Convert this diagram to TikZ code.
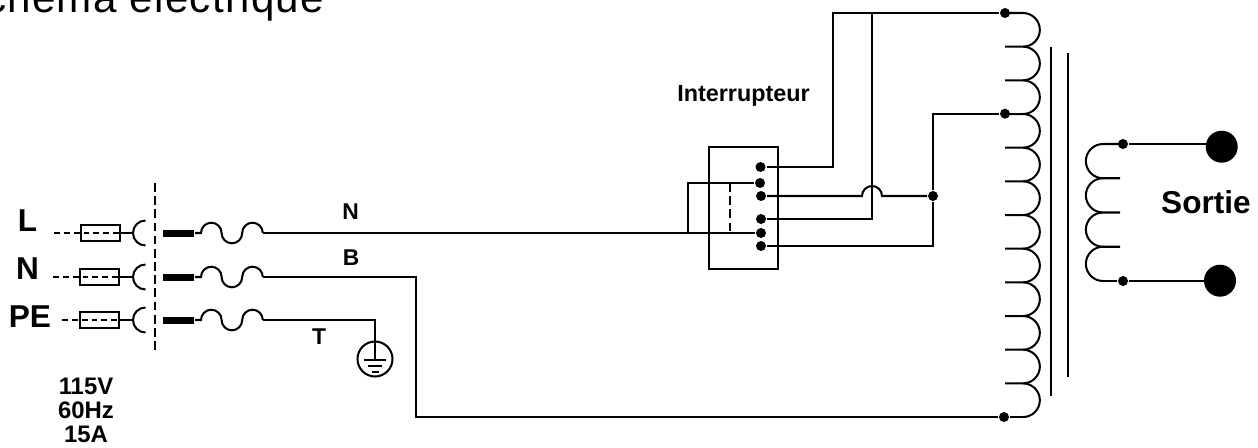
\documentclass[tikz,border=0pt]{standalone}
\usepackage{fontspec}
\setmainfont{Liberation Sans}
\newfontfamily\titlefont[LetterSpace=3]{Liberation Sans}
\tikzset{
  dot/.style={circle,fill=black,inner sep=0pt,minimum size=0.2cm},
  bigdot/.style={circle,fill=black,inner sep=0pt,minimum size=0.64cm},
  fuse/.style={draw,inner sep=0pt,minimum width=0.78cm,minimum height=0.33cm},
  blade/.style={fill=black,inner sep=0pt,minimum width=0.62cm,minimum height=0.14cm},
  biglab/.style={inner sep=0pt,anchor=base,font=\bfseries\fontsize{18}{18}\selectfont},
  lab/.style={inner sep=0pt,anchor=base,font=\bfseries\fontsize{13}{14}\selectfont}
}

\begin{document}
\begin{tikzpicture}[x=0.02cm,y=-0.02cm,line width=1.15pt]
  \useasboundingbox (0,0) rectangle (1258,447);
  \clip (0,0) rectangle (1258,447);

  \node[inner sep=0pt,anchor=base east,font=\titlefont\fontsize{24}{24}\selectfont]
    (title) at (325,12) {Schéma électrique};

  \node[biglab] (labL) at (27.5,231) {L};
  \node[biglab] (labN) at (27.5,279) {N};
  \node[biglab] (labPE) at (30,327) {PE};
  \node[lab] (labW1) at (350.5,219) {N};
  \node[lab] (labW2) at (351,265) {B};
  \node[lab] (labW3) at (319,344) {T};
  \node[lab,font=\bfseries\fontsize{13.3}{14}\selectfont] (labSw) at (743.5,101) {Interrupteur};
  \node[biglab] (labOut) at (1206,213) {Sortie};
  \node[lab,align=center,anchor=north,font=\bfseries\fontsize{13.6}{13.7}\selectfont]
    (labRate) at (86,377) {115V\\60Hz\\15A};

  \coordinate (sepA) at (155,183);
  \coordinate (sepB) at (155,350);
  \draw[dash pattern=on 5pt off 2.5pt] (sepA) -- (sepB);

  \foreach \nm/\yy/\xa/\xf in {L/233/54/100.5,N/277/53/99.5,PE/320/62/99.5}{
    \coordinate (in\nm) at (\xa,\yy);
    \node[fuse] (fuse\nm) at (\xf,\yy) {};
    \coordinate (sock\nm) at (133,\yy);
    \node[blade] (blade\nm) at (178.5,\yy) {};
    \draw[dash pattern=on 3.4pt off 2.2pt] (in\nm) -- (fuse\nm.east);
    \draw (fuse\nm.east) -- (sock\nm);
    \draw (sock\nm) arc[start angle=180,end angle=90,radius=12.5]
      (sock\nm) arc[start angle=180,end angle=270,radius=12.5];
    \draw (blade\nm.east) -- ++(6,0)
      arc[start angle=180,end angle=360,radius=10.3]
      arc[start angle=180,end angle=0,radius=10.3]
      arc[start angle=180,end angle=360,radius=10.3]
      coordinate (out\nm);
  }

  \node[draw,inner sep=0pt,minimum width=1.39cm,minimum height=2.44cm] (switch) at (743.5,208) {};
  \node[dot] (dotA) at (760.5,167) {};
  \node[dot] (dotB) at (760,183) {};
  \node[dot] (dotC) at (761,196) {};
  \node[dot] (dotD) at (761,219) {};
  \node[dot] (dotE) at (761,233) {};
  \node[dot] (dotF) at (761,246) {};
  \node[dot] (dotG) at (933,196) {};

  \node[dot] (tapA) at (1005,13) {};
  \node[dot] (tapB) at (1005,113.7) {};
  \node[dot] (tapC) at (1004,417) {};
  \node[dot] (tapD) at (1123,144) {};
  \node[dot] (tapE) at (1123,281) {};
  \node[bigdot] (outA) at (1221.7,146.7) {};
  \node[bigdot] (outB) at (1220,280.7) {};

  \coordinate (corA) at (833,13);
  \coordinate (corB) at (872,13);
  \coordinate (corC) at (416,417);
  \coordinate (corD) at (688,233);
  \coordinate (lnkA) at (730,183);
  \coordinate (lnkB) at (730,233);
  \coordinate (hopA) at (862,196);

  \draw (outL) -- (dotE);
  \draw (corD) |- (dotB);
  \draw[dash pattern=on 5pt off 2.5pt] (lnkA) -- (lnkB);
  \draw (dotA) -| (corA) -- (tapA);
  \draw (dotC) -- (hopA) arc[start angle=180,end angle=360,radius=10] -- (dotG);
  \draw (dotD) -| (corB);
  \draw (dotF) -| (dotG);
  \draw (dotG) |- (tapB);
  \draw (outN) -| (corC) -- (tapC);

  \node[draw,circle,inner sep=0pt,minimum size=0.7cm] (gnd) at (375,359) {};
  \draw (outPE) -| (gnd.center);
  \draw (gnd.center) ++(-11,1) -- ++(22,0);
  \draw (gnd.center) ++(-7,7) -- ++(14,0);
  \draw (gnd.center) ++(-3.5,13) -- ++(7,0);

  \foreach \i in {0,...,11}{
    \draw (1005,13+33.67*\i) -- (1023,13+33.67*\i)
      arc[start angle=-90,end angle=90,radius=16.83];
  }
  \draw (tapC) -- (1023,417);

  \draw (1051,47) -- (1051,396);
  \draw (1068,53) -- (1068,377);

  \foreach \i in {0,...,3}{
    \draw (1120,144+34.25*\i) -- (1103,144+34.25*\i)
      arc[start angle=-90,end angle=-270,radius=17.12];
  }
  \draw (tapE) -- (1103,281);
  \draw (tapD) -- (tapD -| outA);
  \draw (tapE) -- (tapE -| outB);
\end{tikzpicture}
\end{document}
